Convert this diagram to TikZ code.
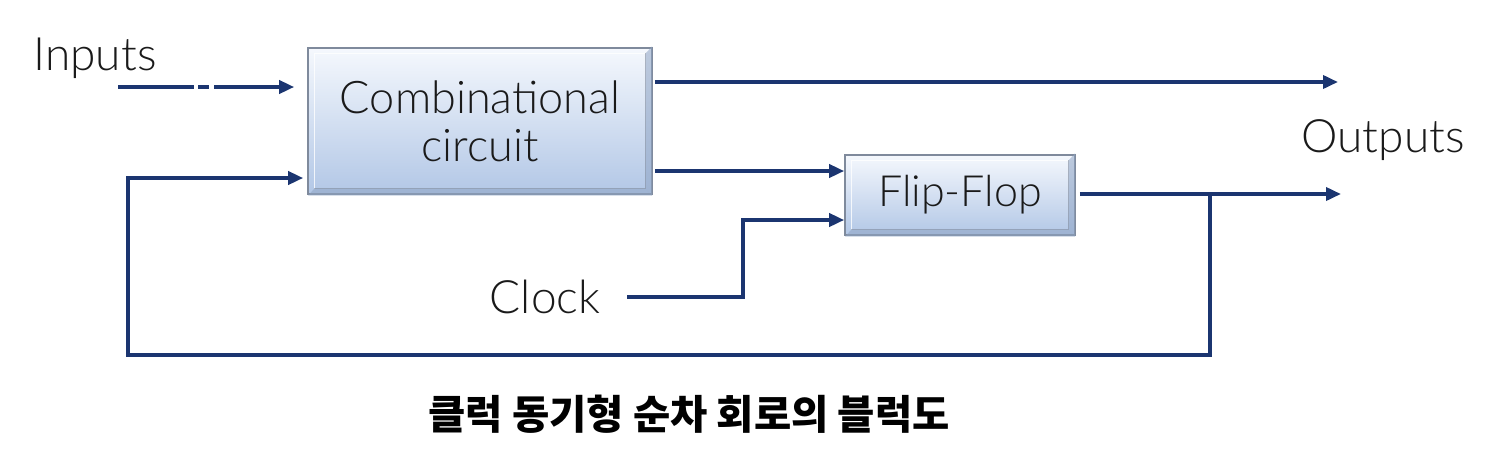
\documentclass[tikz,border=0pt]{standalone}
\usepackage{fontspec}
\setmainfont{Lato}[UprightFont=* Light]
\newfontfamily\kr{Noto Sans CJK KR}
\usetikzlibrary{arrows.meta,calc}
\definecolor{wire}{HTML}{1B3570}
\definecolor{boxtop}{HTML}{F5F8FD}
\definecolor{boxbot}{HTML}{B2C7E6}
\definecolor{boxedge}{HTML}{7F8A9C}
\definecolor{bevel}{HTML}{8FA4C4}
\definecolor{ink}{HTML}{1A1A1A}
\tikzset{
  blockbox/.style={draw=boxedge, line width=1.6pt, top color=boxtop, bottom color=boxbot,
    inner sep=0pt, align=center, text=ink},
  wireline/.style={draw=wire, line width=3.6pt},
  wirearrow/.style={wireline, -{Triangle[length=15pt,width=13pt]}},
  lbl/.style={text=ink, font=\fontsize{46}{50}\selectfont, inner sep=0pt},
}
\begin{document}
\begin{tikzpicture}[x=1pt,y=-1pt]
\useasboundingbox (0,0) rectangle (1510,456);
% blocks
\node[blockbox, minimum width=344pt, minimum height=146pt, font=\fontsize{45}{48}\selectfont] (comb) at (480,121) {Combinational\\circuit};
\node[blockbox, minimum width=230pt, minimum height=80pt, font=\fontsize{43}{46}\selectfont] (ff) at (960,195) {Flip-Flop};
% bevel strips
\foreach \b in {comb,ff}{
  \fill[bevel, opacity=0.55] ([xshift=-0.8pt,yshift=0.8pt]\b.north east) -- ([xshift=-0.8pt,yshift=-0.8pt]\b.south east)
     -- ([xshift=-7pt,yshift=6pt]\b.south east) -- ([xshift=-7pt,yshift=-6pt]\b.north east) -- cycle;
  \fill[bevel, opacity=0.55] ([xshift=0.8pt,yshift=-0.8pt]\b.south west) -- ([xshift=-0.8pt,yshift=-0.8pt]\b.south east)
     -- ([xshift=-7pt,yshift=6pt]\b.south east) -- ([xshift=7pt,yshift=6pt]\b.south west) -- cycle;
  \draw[white, opacity=0.8, line width=1.2pt] ([xshift=7pt,yshift=6pt]\b.south west) -- ([xshift=7pt,yshift=-6pt]\b.north west) -- ([xshift=-7pt,yshift=-6pt]\b.north east);
  \draw[boxedge, opacity=0.6, line width=1pt] ([xshift=7pt,yshift=6pt]\b.south west) -- ([xshift=-7pt,yshift=6pt]\b.south east) -- ([xshift=-7pt,yshift=-6pt]\b.north east);
}
% labels
\node[lbl] (inputs) at (95,58) {Inputs};
\node[lbl] (outputs) at (1383,140) {Outputs};
\node[lbl] (clock) at (545,297) {Clock};
\node[text=black, inner sep=0pt, font=\kr\bfseries\fontsize{40.5}{44}\selectfont] (caption) at (689,414) {클럭 동기형 순차 회로의 블럭도};
% coordinates
\coordinate (inS) at (118,87);
\coordinate (out1) at (1338,82);
\coordinate (out2) at (1341,194);
\coordinate (clkS) at (627,297);
\coordinate (clkB) at (743,297);
\coordinate (tap) at (1210,194);
\coordinate (fbR) at (1210,355);
\coordinate (fbL) at (128,355);
\coordinate (fbT) at (128,178);
% wires
\draw[wirearrow, dash pattern=on 76pt off 4pt on 11pt off 5pt on 300pt, shorten >=13pt] (inS) -- (comb.west |- inS);
\draw[wirearrow] ([xshift=2pt]comb.east |- out1) -- (out1);
\draw[wirearrow] ([xshift=2pt]comb.east |- 0,171) -- (ff.west |- 0,171);
\draw[wirearrow] (clkS) -- (clkB) -- (clkB |- 0,220) -- (ff.west |- 0,220);
\draw[wirearrow] ([xshift=4pt]ff.east |- out2) -- (out2);
\draw[wirearrow, shorten >=4pt] (tap) -- (fbR) -- (fbL) -- (fbT) -- (comb.west |- fbT);
\end{tikzpicture}
\end{document}
